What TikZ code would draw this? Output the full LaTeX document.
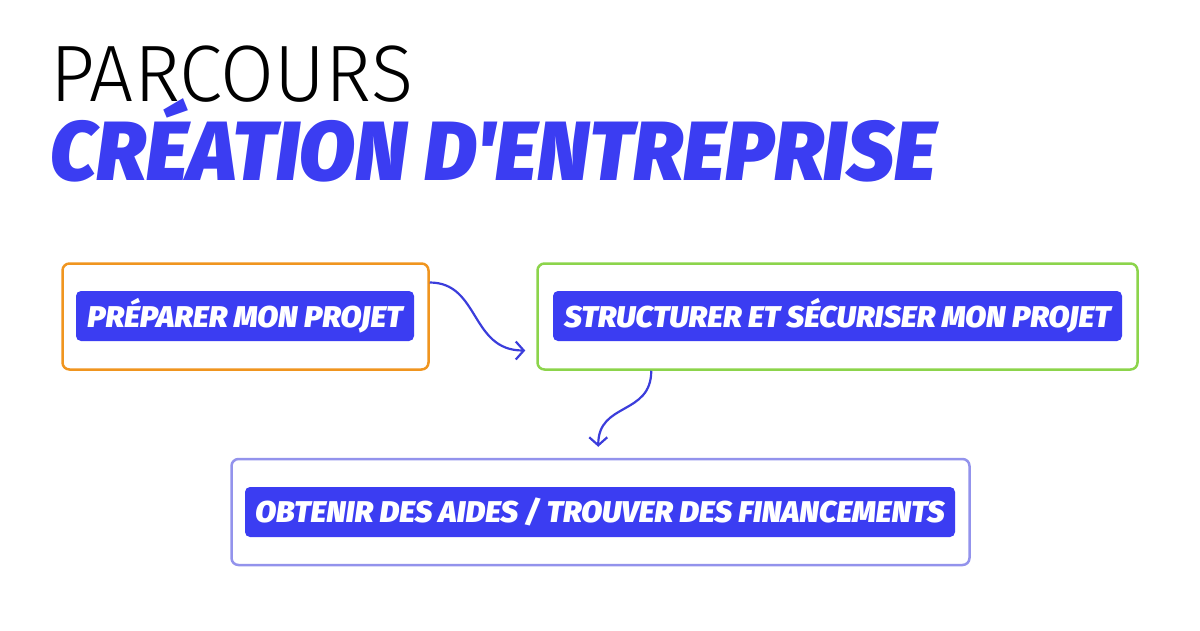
\documentclass[tikz,border=0pt]{standalone}
\usepackage{fontspec}
\setmainfont{Fira Sans}
\newfontfamily\headfont[FakeStretch=0.975]{Fira Sans Light}
\newfontfamily\subheadfont[FakeStretch=0.97]{Fira Sans Black Italic}
\newfontfamily\stepfont[FakeStretch=1.02]{Fira Sans Black Italic}
\usetikzlibrary{positioning,arrows.meta,calc}
\definecolor{stepblue}{HTML}{3B3DF2}
\definecolor{arrowblue}{HTML}{3B3DDB}
\definecolor{prepcol}{HTML}{F0951F}
\definecolor{structcol}{HTML}{8CD44B}
\definecolor{aidescol}{HTML}{9393EC}
\tikzset{
  frame/.style={draw=#1, line width=2.5pt, rounded corners=7pt, fill=white,
    minimum height=106pt, inner sep=0pt},
  steplabel/.style={fill=stepblue, text=white, rounded corners=5pt,
    minimum height=50pt, inner sep=0pt,
    font=\stepfont\fontsize{30}{30}\selectfont},
  flow/.style={draw=arrowblue, line width=2.2pt,
    -{Straight Barb[length=8pt,width=18pt,line width=2.2pt]}}
}
\begin{document}
\begin{tikzpicture}[x=1pt, y=-1pt]
    \useasboundingbox (0,0) rectangle (1200,630);
    % titles
    \node[anchor=base west, inner sep=0pt, font=\headfont\fontsize{80}{80}\selectfont] (title) at (50,101) {PARCOURS};
    \node[anchor=base west, inner sep=0pt, text=stepblue,
      font=\subheadfont\fontsize{84}{84}\selectfont] (subtitle) at (50,180) {CRÉATION D'ENTREPRISE};
    %
    \node[frame=prepcol, minimum width=366pt] (prep) at (245.5,316.5) {};
    \node[frame=structcol, minimum width=600pt] (struct) at (837.5,316.5) {};
    \node[frame=aidescol, minimum width=738pt] (aides) at (600.5,512) {};
    %
    \node[steplabel, minimum width=338pt] (prepLbl) at (245,316) {PRÉPARER MON PROJET};
    \node[steplabel, minimum width=569pt] (structLbl) at (837.5,316) {STRUCTURER ET SÉCURISER MON PROJET};
    \node[steplabel, minimum width=710pt] (aidesLbl) at (600,512) {OBTENIR DES AIDES / TROUVER DES FINANCEMENTS};
    %
    \coordinate (A) at ($(prep.east)+(0,-34)$);
    \coordinate (B) at ($(struct.west)+(-11,34)$);
    \coordinate (C) at ($(struct.south west)+(115,0)$);
    \coordinate (D) at ($(aides.north west)+(368,-11)$);
    \draw[flow] (A) .. controls ($(A)+(50,0)$) and ($(B)+(-55,0)$) .. (B);
    \draw[flow] (C) .. controls ($(C)+(0,45)$) and ($(D)+(0,-45)$) .. (D);
\end{tikzpicture}
\end{document}
